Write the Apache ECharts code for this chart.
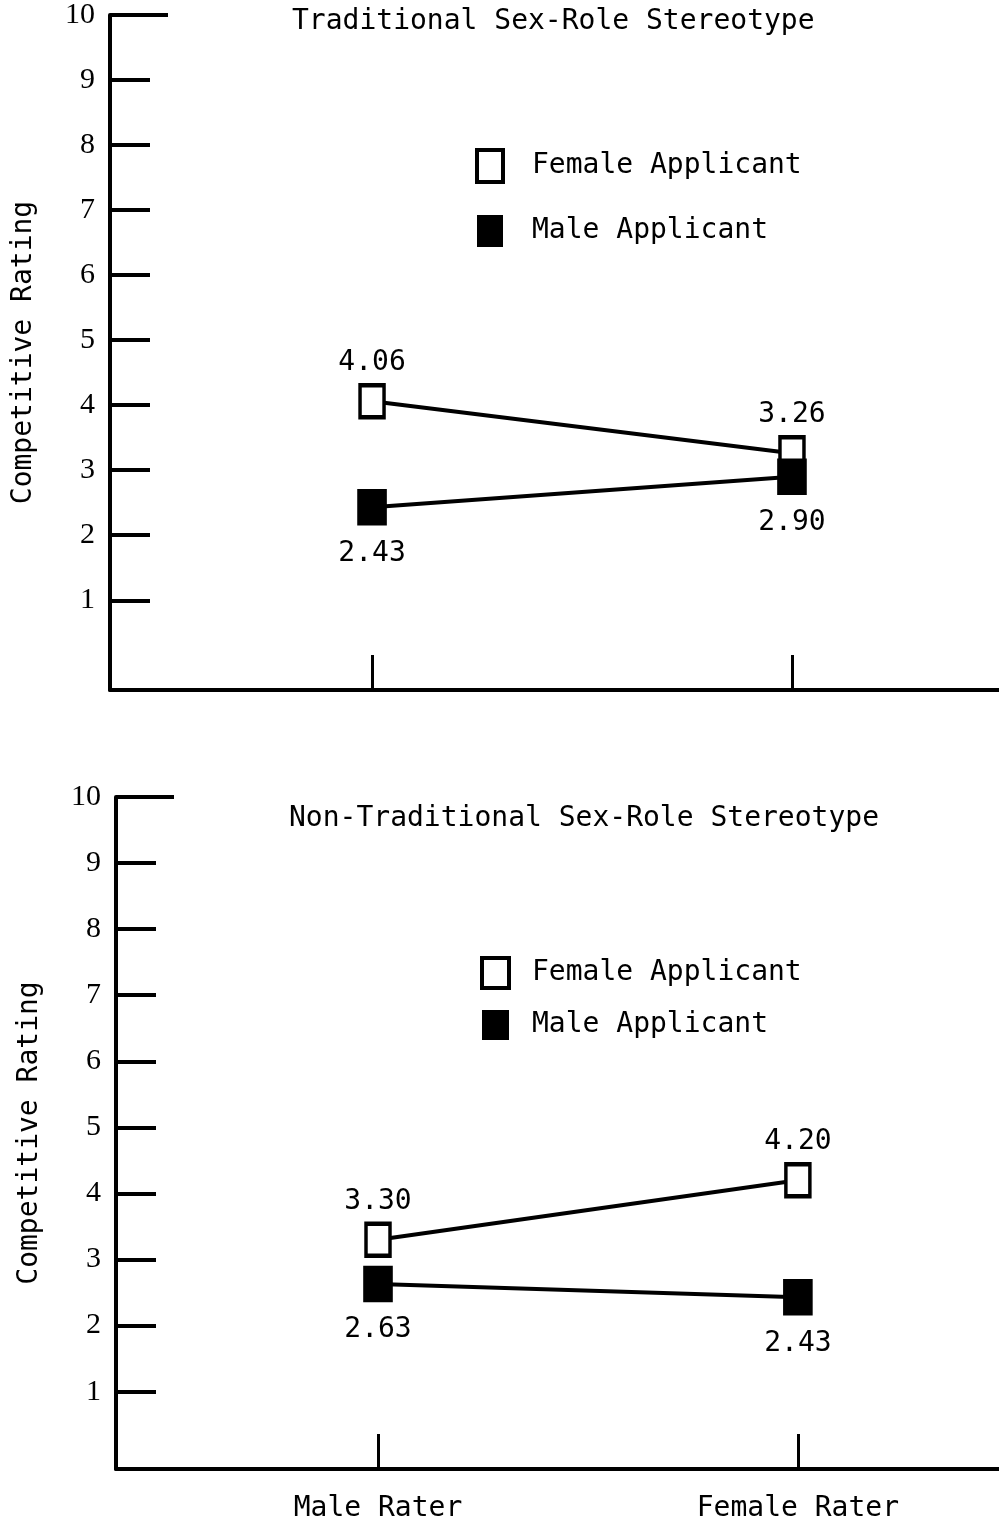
<!DOCTYPE html>
<html>
<head>
<meta charset="utf-8">
<script src="https://cdn.jsdelivr.net/npm/echarts@6/dist/echarts.min.js"></script>
<style>
html,body{margin:0;padding:0;background:#fff;}
#chart{width:999px;height:1525px;}
</style>
</head>
<body>
<div id="chart"></div>
<script>
const categories = ['Male Rater', 'Female Rater'];
const seriesNames = ['Female Applicant', 'Male Applicant'];
const panelTitles = ['Traditional Sex-Role Stereotype', 'Non-Traditional Sex-Role Stereotype'];
const yAxisTitle = 'Competitive Rating';
const tradFemale = [4.06, 3.26];
const tradMale = [2.43, 2.90];
const nonTradFemale = [3.30, 4.20];
const nonTradMale = [2.63, 2.43];
const yTicks = [1, 2, 3, 4, 5, 6, 7, 8, 9, 10];
const xTicks = [0, 1];

const MONO = 'DejaVu Sans Mono';
const SERIF = 'Liberation Serif';
const FS = 28;

function pts(vals) { return vals.map((v, i) => [i, v]); }

const chart = echarts.init(document.getElementById('chart'), null, {renderer: 'canvas'});

const grids = [
  {left: 110, top: 14, right: 0, height: 676},
  {left: 116, top: 797, right: 0, height: 672}
];
const yMins = [-0.38, -0.17];
const xRanges = [[-0.624, 1.493], [-0.624, 1.479]];

const xAxes = [0, 1].map(g => ({
  type: 'value', gridIndex: g, min: xRanges[g][0], max: xRanges[g][1],
  axisLine: {show: true, onZero: false, lineStyle: {color: '#000', width: 4}},
  axisTick: {show: true, inside: true, length: 35, customValues: xTicks, lineStyle: {color: '#000', width: 3}},
  axisLabel: {show: g === 1, customValues: xTicks, margin: 26,
    formatter: v => categories[Math.round(v)],
    fontFamily: MONO, fontSize: FS, color: '#000'},
  splitLine: {show: false}
}));

const yAxes = [];
[0, 1].forEach(g => {
  yAxes.push({
    type: 'value', gridIndex: g, min: yMins[g], max: 10,
    name: yAxisTitle, nameLocation: 'middle', nameGap: 72,
    nameTextStyle: {fontFamily: MONO, fontSize: FS, color: '#000'},
    axisLine: {show: true, onZero: false, lineStyle: {color: '#000', width: 4}},
    axisTick: {show: true, inside: true, length: 40, customValues: yTicks, lineStyle: {color: '#000', width: 4}},
    axisLabel: {show: true, customValues: yTicks, margin: 15, fontFamily: SERIF, fontSize: 30, color: '#000'},
    splitLine: {show: false}
  });
  yAxes.push({
    type: 'value', gridIndex: g, min: yMins[g], max: 10, position: 'left',
    axisLine: {show: false, onZero: false},
    axisTick: {show: true, inside: true, length: 58, customValues: [10], lineStyle: {color: '#000', width: 4}},
    axisLabel: {show: false},
    splitLine: {show: false}
  });
});

function mkSeries(name, vals, g, filled) {
  return {
    type: 'line', name: name, xAxisIndex: g, yAxisIndex: g * 2,
    data: pts(vals),
    symbol: 'rect', symbolSize: filled ? [26, 32] : [24, 32],
    lineStyle: {color: '#000', width: 4},
    itemStyle: {color: filled ? '#000' : '#fff', borderColor: '#000', borderWidth: 4},
    label: {show: true, position: filled ? 'bottom' : 'top', distance: filled ? 14 : 6,
      formatter: p => p.value[1].toFixed(2),
      fontFamily: MONO, fontSize: FS, color: '#000'},
    z: 5
  };
}

const legendData = [
  {name: seriesNames[0], icon: 'rect', itemStyle: {color: '#fff', borderColor: '#000', borderWidth: 4}},
  {name: seriesNames[1], icon: 'rect', itemStyle: {color: '#000', borderColor: '#000', borderWidth: 0}}
];

const option = {
  animation: false,
  backgroundColor: '#fff',
  title: [
    {text: panelTitles[0], left: 287, top: 3, textStyle: {fontFamily: MONO, fontSize: FS, fontWeight: 'normal', color: '#000'}},
    {text: panelTitles[1], left: 284, top: 800, textStyle: {fontFamily: MONO, fontSize: FS, fontWeight: 'normal', color: '#000'}}
  ],
  legend: [
    {orient: 'vertical', left: 475, top: 148, padding: 0, itemWidth: 26, itemHeight: 32, itemGap: 31,
      data: legendData, textStyle: {fontFamily: MONO, fontSize: FS, color: '#000', padding: [0, 0, 0, 24]}},
    {orient: 'vertical', left: 480, top: 956, padding: 0, itemWidth: 27, itemHeight: 30, itemGap: 20,
      data: legendData, textStyle: {fontFamily: MONO, fontSize: FS, color: '#000', padding: [0, 0, 0, 18]}}
  ],
  grid: grids,
  xAxis: xAxes,
  yAxis: yAxes,
  series: [
    mkSeries(seriesNames[0], tradFemale, 0, false),
    mkSeries(seriesNames[1], tradMale, 0, true),
    mkSeries(seriesNames[0], nonTradFemale, 1, false),
    mkSeries(seriesNames[1], nonTradMale, 1, true)
  ]
};
chart.setOption(option);
</script>
</body>
</html>
